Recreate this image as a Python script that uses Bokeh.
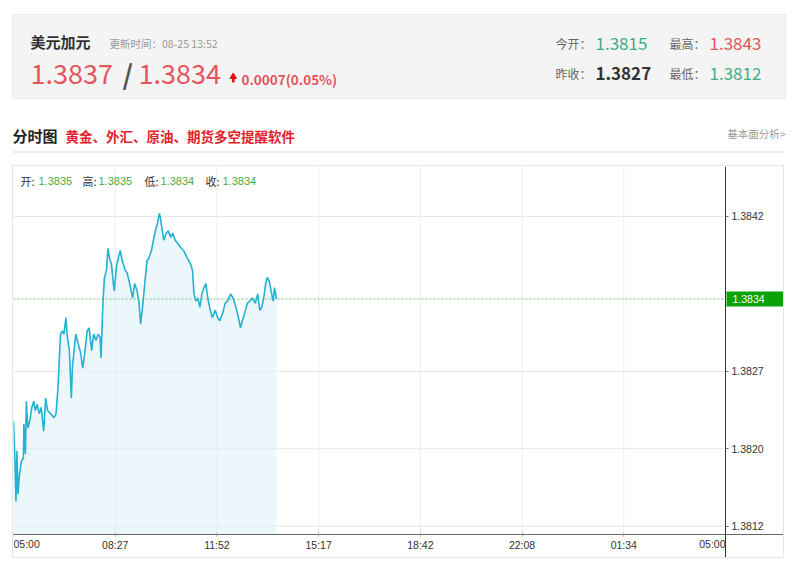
from bokeh.plotting import figure
from bokeh.models import Range1d, FixedTicker, Label, ColumnDataSource
from bokeh.layouts import column
from bokeh.embed import file_html
from bokeh.resources import INLINE
from bokeh.core.properties import value

# ---------------- data ----------------
minutes_since_0500 = [
    0, 3, 5, 7, 9, 12, 16, 20, 21, 24,
    26, 29, 33, 37, 41, 44, 48, 52, 56, 61,
    65, 69, 75, 82, 86, 90, 95, 99, 102, 106,
    109, 113, 117, 119, 123, 126, 129, 133, 136, 140,
    144, 149, 153, 158, 162, 167, 171, 175, 177, 181,
    184, 188, 191, 194, 198, 202, 204, 208, 212, 216,
    220, 226, 230, 235, 241, 245, 250, 254, 257, 261,
    266, 270, 274, 279, 283, 287, 291, 295, 297, 300,
    304, 309, 313, 318, 322, 327, 332, 338, 344, 351,
    358, 362, 365, 369, 373, 377, 381, 385, 389, 393,
    398, 402, 408, 413, 417, 423, 428, 433, 439, 444,
    450, 455, 459, 463, 469, 473, 478, 483, 489, 494,
    498, 502, 506, 510, 513, 517, 521, 525, 528, 532,
]
price = [
    1.38222, 1.38183, 1.38144, 1.38193, 1.38151, 1.38170, 1.38183, 1.38186, 1.38219, 1.38190,
    1.38241, 1.38215, 1.38222, 1.38235, 1.38241, 1.38232, 1.38238, 1.38229, 1.38235, 1.38212,
    1.38244, 1.38232, 1.38229, 1.38225, 1.38229, 1.38254, 1.38306, 1.38309, 1.38306, 1.38322,
    1.38303, 1.38290, 1.38244, 1.38273, 1.38293, 1.38306, 1.38300, 1.38293, 1.38287, 1.38273,
    1.38287, 1.38309, 1.38312, 1.38290, 1.38306, 1.38300, 1.38306, 1.38303, 1.38283, 1.38338,
    1.38361, 1.38368, 1.38389, 1.38380, 1.38374, 1.38355, 1.38348, 1.38371, 1.38380, 1.38387,
    1.38377, 1.38368, 1.38365, 1.38355, 1.38341, 1.38355, 1.38348, 1.38336, 1.38316, 1.38332,
    1.38358, 1.38377, 1.38380, 1.38387, 1.38397, 1.38406, 1.38413, 1.38423, 1.38419, 1.38409,
    1.38397, 1.38404, 1.38406, 1.38400, 1.38404, 1.38397, 1.38394, 1.38390, 1.38387, 1.38380,
    1.38374, 1.38368, 1.38345, 1.38338, 1.38341, 1.38332, 1.38345, 1.38351, 1.38355, 1.38341,
    1.38329, 1.38322, 1.38329, 1.38322, 1.38319, 1.38326, 1.38336, 1.38338, 1.38345, 1.38341,
    1.38332, 1.38322, 1.38312, 1.38319, 1.38329, 1.38336, 1.38338, 1.38341, 1.38336, 1.38345,
    1.38329, 1.38332, 1.38341, 1.38355, 1.38361, 1.38358, 1.38348, 1.38338, 1.38351, 1.38340,
]
y_ticks = [1.3812, 1.38195, 1.3827, 1.3842]
y_tick_labels = ["1.3812", "1.3820", "1.3827", "1.3842"]
x_ticks = [0, 205.7, 411.4, 617.1, 822.9, 1028.6, 1234.3, 1440]
x_tick_labels = ["05:00", "08:27", "11:52", "15:17", "18:42", "22:08", "01:34", "05:00"]
session_end = 1440          # minutes in the 24h session
axis_price = 1.38112        # price level where the time axis sits
view_bottom, view_top = 1.380877, 1.384684
view_right = 1561.35
last_price = 1.3834

symbol = "美元加元"
update_time = "更新时间：08-25 13:52"
bid_text, ask_text = "1.3837", "1.3834"
change_text = "0.0007(0.05%)"
stat_names = ["今开：", "最高：", "昨收：", "最低："]
stat_values = ["1.3815", "1.3843", "1.3827", "1.3812"]
ohlc_names = ["开:", "高:", "低:", "收:"]
ohlc_values = ["1.3835", "1.3835", "1.3834", "1.3834"]
section_title = "分时图"
promo_text = "黄金、外汇、原油、期货多空提醒软件"
link_text = "基本面分析>"

# ---------------- styles ----------------
CJK = "Noto Sans CJK SC"
LAT = "Liberation Sans"
RED = "#e5555c"
GREEN = "#3dae84"
LINE = "#22b2d3"

# ---------------- header ----------------
hdr = figure(width=792, height=165, x_range=Range1d(0, 792), y_range=Range1d(165, 0),
             toolbar_location=None, output_backend="svg", min_border=0,
             x_axis_type=None, y_axis_type=None, outline_line_color=None)
hdr.xgrid.visible = False
hdr.ygrid.visible = False


def txt(x, y, s, size, color, font=CJK, style="normal", align="left"):
    hdr.text(x=[x], y=[y], text=[s], text_font=value(font), text_font_size=size,
             text_color=color, text_font_style=style, text_align=align,
             text_baseline="middle")


hdr.quad(left=12, right=785, top=14, bottom=98, fill_color="#f4f4f4", line_color="#ebebeb")
txt(30, 41, symbol, "15px", "#333333", style="bold")
txt(109, 43, update_time, "10.5px", "#999999")
txt(30, 73, bid_text, "27px", RED)
txt(122, 73, "/", "27px", "#555555", style="bold")
txt(138, 73, ask_text, "27px", RED)
# up arrow
hdr.patch(x=[229.5, 236, 232.75], y=[78, 78, 72.5], fill_color="#dd1111", line_color="#dd1111")
hdr.quad(left=231.5, right=234, top=78, bottom=82, fill_color="#dd1111", line_color=None)
txt(241, 78, change_text, "13.5px", RED, style="bold")

stat_x_name = [555, 669, 555, 669]
stat_y = [43, 43, 73, 73]
stat_colors = [GREEN, RED, "#333333", GREEN]
for i in range(4):
    txt(stat_x_name[i], stat_y[i], stat_names[i], "12px", "#666666")
    txt(stat_x_name[i] + 40, stat_y[i], stat_values[i], "17px", stat_colors[i],
        style="bold" if i == 2 else "normal")

txt(12, 135, section_title, "15px", "#222222", style="bold")
txt(65, 135, promo_text, "13.5px", "#e3232b", style="bold")
txt(785, 133, link_text, "10.5px", "#999999", align="right")
hdr.segment(x0=[12], y0=[151.5], x1=[785], y1=[151.5], line_color="#dddddd", line_width=1)

# ---------------- chart ----------------
src = ColumnDataSource(dict(m=minutes_since_0500, p=price))

p = figure(width=772, height=393, x_range=Range1d(0, view_right),
           y_range=Range1d(view_bottom, view_top),
           y_axis_location="right", toolbar_location=None, output_backend="svg",
           min_border=0, outline_line_color=None, margin=(0, 0, 0, 12),
           styles={"border": "1px solid #e6e6e6"})
p.xgrid.visible = False
p.ygrid.visible = False

# grid lines limited to the plotting area
p.segment(x0=x_ticks[1:-1], y0=axis_price, x1=x_ticks[1:-1], y1=view_top,
          line_color="#e8edf1", line_width=1)
p.segment(x0=0, y0=y_ticks, x1=session_end, y1=y_ticks, line_color="#e6e6e6", line_width=1)

p.varea(x="m", y1="p", y2=axis_price, source=src, fill_color="#dcf1f9", fill_alpha=0.55)
p.line(x="m", y="p", source=src, line_color=LINE, line_width=1.6)
p.segment(x0=0, y0=last_price, x1=session_end, y1=last_price, line_color="#6cc46c",
          line_dash="2 2", line_width=1)

p.xaxis.fixed_location = axis_price
p.yaxis.fixed_location = session_end
p.xaxis.ticker = FixedTicker(ticks=x_ticks)
p.xaxis.major_label_overrides = {t: (lab if 0 < i < len(x_ticks) - 1 else "")
                                 for i, (t, lab) in enumerate(zip(x_ticks, x_tick_labels))}
p.yaxis.ticker = FixedTicker(ticks=y_ticks)
p.yaxis.major_label_overrides = dict(zip(y_ticks, y_tick_labels))

for ax in (p.xaxis, p.yaxis):
    ax.minor_tick_line_color = None
    ax.major_label_text_font = LAT
    ax.major_label_text_font_size = "10.5px"
    ax.major_label_text_color = "#333333"
p.xaxis.axis_line_color = "#666666"
p.xaxis.major_tick_line_color = "#aaaaaa"
p.xaxis.major_tick_in = 2
p.xaxis.major_tick_out = 2
p.xaxis.major_label_standoff = 3
p.yaxis.axis_line_color = "#333333"
p.yaxis.major_tick_line_color = "#777777"
p.yaxis.major_tick_in = 0
p.yaxis.major_tick_out = 3
p.yaxis.major_label_standoff = 3

# edge time labels (aligned inside the plotting area)
p.add_layout(Label(x=x_ticks[0], y=axis_price, y_offset=-10, text=x_tick_labels[0],
                   text_align="left", text_baseline="middle", text_font=LAT,
                   text_font_size="10.5px", text_color="#333333"))
p.add_layout(Label(x=x_ticks[-1], y=axis_price, y_offset=-10, text=x_tick_labels[-1],
                   text_align="right", text_baseline="middle", text_font=LAT,
                   text_font_size="10.5px", text_color="#333333"))

# current price tag on the right axis
p.add_layout(Label(x=session_end, y=last_price, x_offset=1, text=f"{last_price:.4f}",
                   text_align="left", text_baseline="middle", text_font=LAT,
                   text_font_size="10.5px", text_color="white",
                   background_fill_color="#07a307",
                   padding=dict(left=6, right=22, top=3, bottom=4)))

# OHLC line at the top of the chart
name_off = [7, 69, 131, 192]
val_off = [25, 85, 147, 209]
for i in range(4):
    p.add_layout(Label(x=0, y=view_top, x_offset=name_off[i], y_offset=-14, text=ohlc_names[i],
                       text_align="left", text_baseline="middle", text_font=CJK,
                       text_font_size="11px", text_color="#333333"))
    p.add_layout(Label(x=0, y=view_top, x_offset=val_off[i], y_offset=-14, text=ohlc_values[i],
                       text_align="left", text_baseline="middle", text_font=LAT,
                       text_font_size="11px", text_color="#45aa45"))

layout = column(hdr, p, spacing=0)
open("out.html", "w").write(file_html(layout, INLINE))
